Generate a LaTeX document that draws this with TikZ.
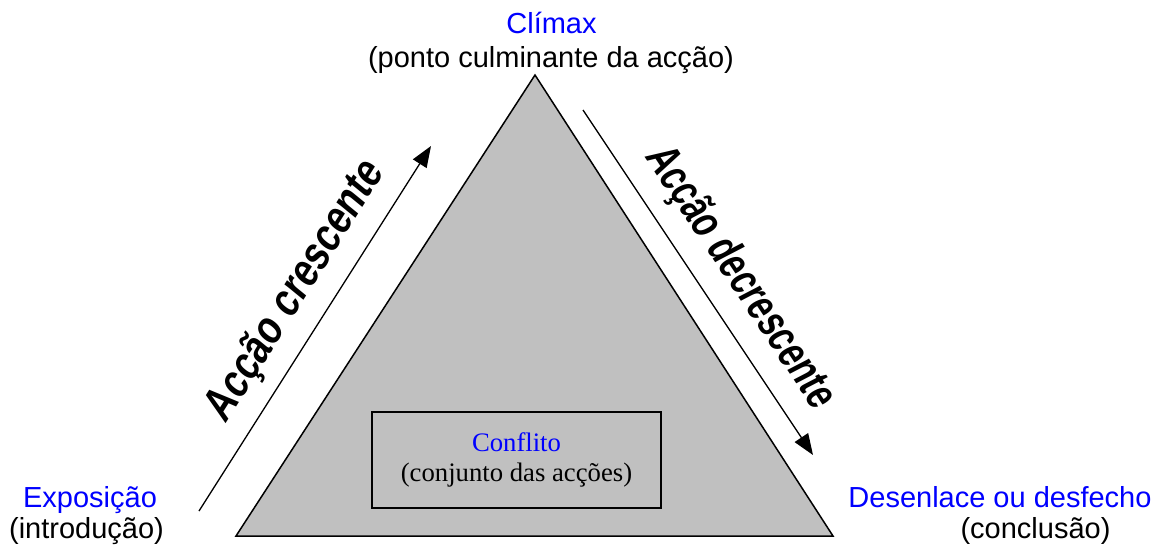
\documentclass[tikz,border=0pt]{standalone}
\usepackage{fontspec}
\setmainfont{Liberation Sans}
\newfontfamily\boxfont{Liberation Serif}
\usetikzlibrary{positioning}
\usetikzlibrary{arrows.meta}
\definecolor{pyramid}{RGB}{192,192,192}

\begin{document}
\begin{tikzpicture}[x = 1pt, y = -1pt,
stage/.style = {text = blue, font = \fontsize{29}{34}\selectfont, inner sep = 0pt, anchor = base},
stagenote/.style = {font = \fontsize{29}{34}\selectfont, inner sep = 0pt, anchor = base},
slopetext/.style = {font = \fontsize{46}{50}\selectfont\bfseries, inner sep = 0pt, xslant = 0.15},
slope/.style = {line width = 1.3pt, -{Triangle[length = 21pt, width = 16pt]}},
conflictbox/.style = {draw, line width = 1.3pt, fill = pyramid, minimum width = 289pt, minimum height = 96pt, align = center, font = \boxfont\fontsize{26.7}{30}\selectfont},
]
\useasboundingbox (0, 0) rectangle (1162, 547);

\coordinate (base left) at (236, 536);
\coordinate (peak) at (535, 75);
\coordinate (base right) at (833, 536);
\filldraw[fill = pyramid, line width = 1.5pt, line join = miter] (base left) -- (peak) -- (base right) -- cycle;

\node[conflictbox] (conflict) at (516.5, 460) {\textcolor{blue}{Conflito}\\(conjunto das acções)};

\node[stage] (climax) at (551.5, 33) {Clímax};
\node[stagenote] (climaxnote) at (551, 67) {(ponto culminante da acção)};
\node[stage] (exposition) at (90, 507) {Exposição};
\node[stagenote] (expositionnote) at (86.5, 538) {(introdução)};
\node[stage] (outcome) at (1000, 507) {Desenlace ou desfecho};
\node[stagenote] (outcomenote) at (1035.5, 538) {(conclusão)};

\coordinate (rise start) at (199, 511);
\coordinate (rise end) at (431, 146);
\coordinate (fall start) at (583, 110);
\coordinate (fall end) at (813, 455);
\draw[slope] (rise start) -- (rise end);
\draw[slope] (fall start) -- (fall end);

\node[rotate = 57.7, xscale = 0.815, slopetext] (rising) at (296, 291) {Acção crescente};
\node[rotate = -56.3, xscale = 0.73, slopetext] (falling) at (740, 278) {Acção decrescente};
\end{tikzpicture}
\end{document}
